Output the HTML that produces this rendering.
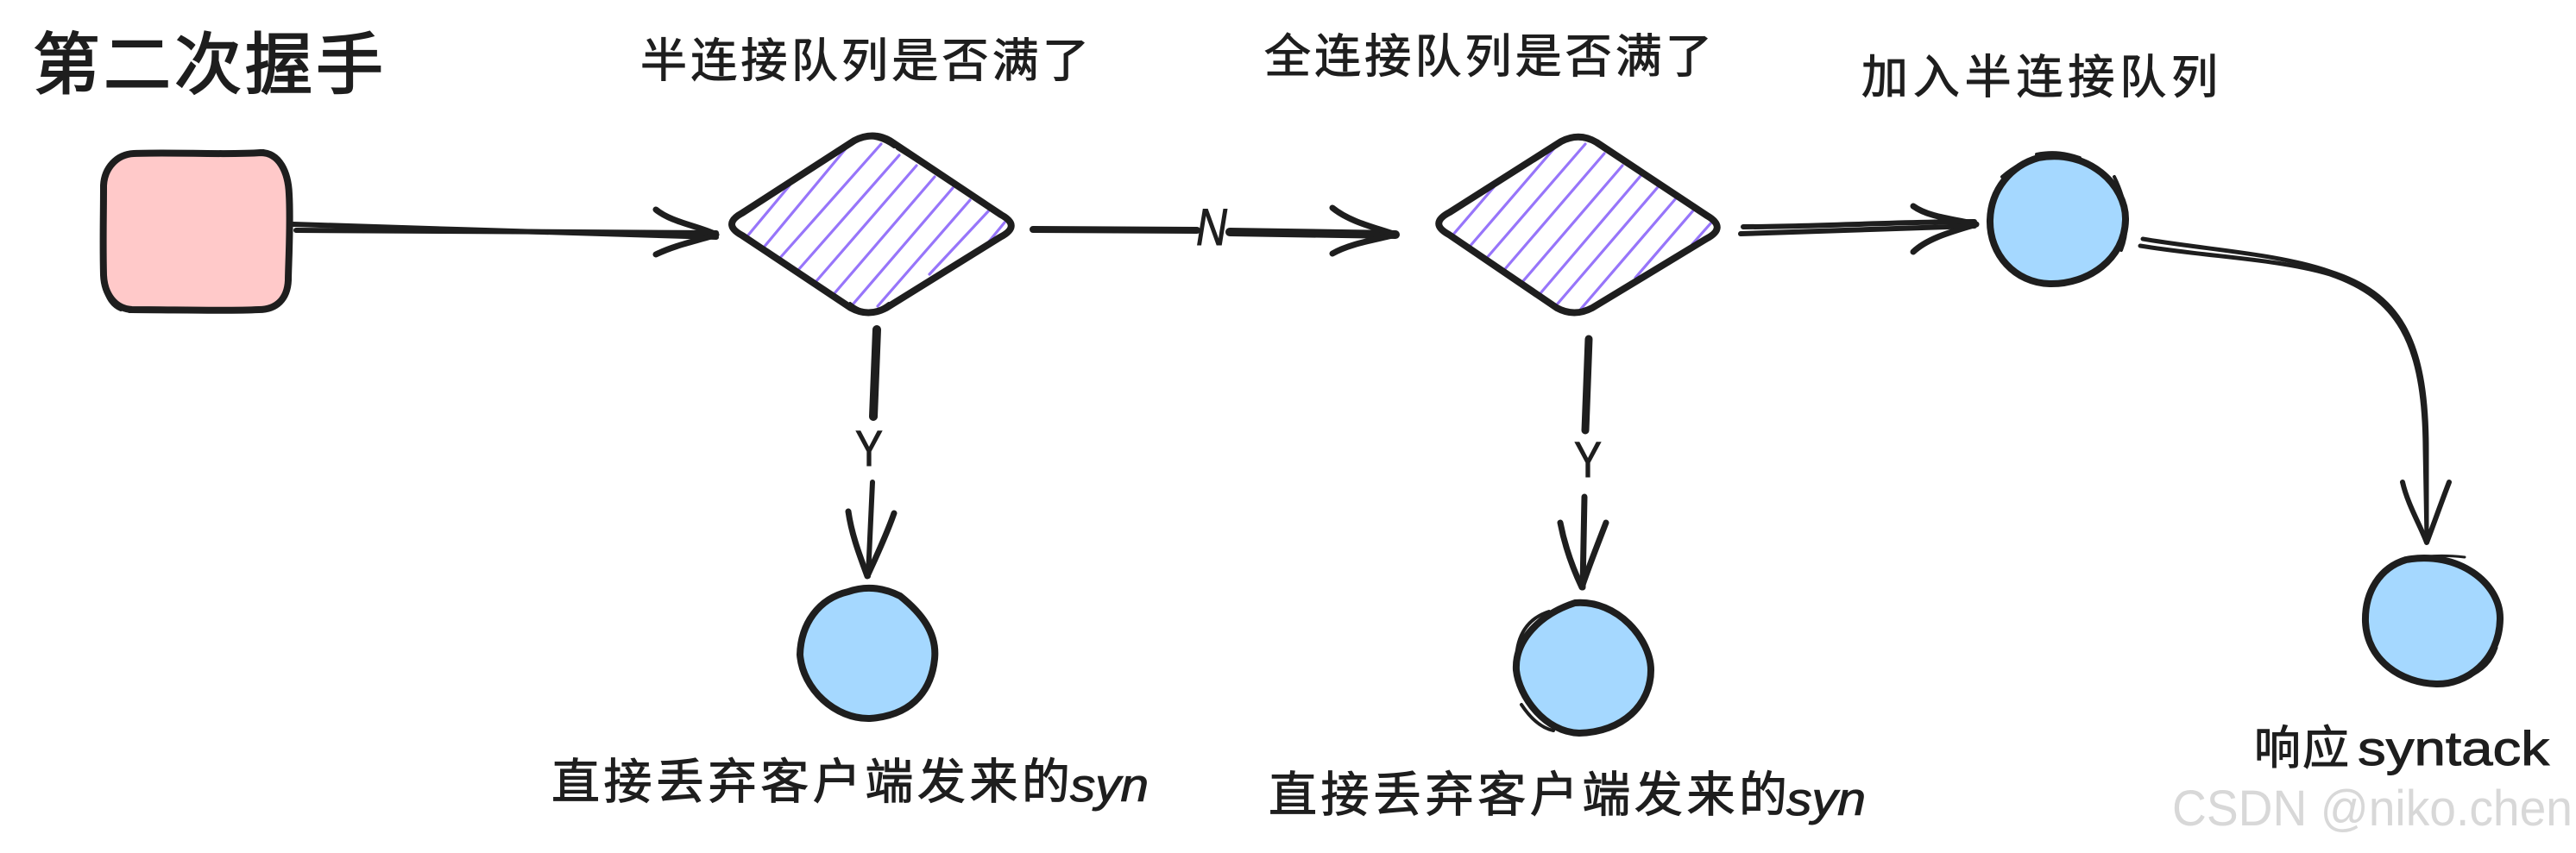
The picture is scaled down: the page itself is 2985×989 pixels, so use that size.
<!DOCTYPE html>
<html><head><meta charset="utf-8"><style>
html,body{margin:0;padding:0;background:#fff;width:2985px;height:989px;overflow:hidden}
svg{display:block}
text{fill:#1e1e1e;stroke:#1e1e1e;stroke-width:1;font-family:"Noto Sans CJK SC","WenQuanYi Zen Hei",sans-serif}
.l{font-family:"Liberation Sans",sans-serif}
.s{fill:none;stroke:#1e1e1e;stroke-linecap:round;stroke-linejoin:round}
.h{stroke:#9775fa;stroke-width:3.2;stroke-linecap:round;fill:none}
</style></head><body>
<svg xmlns="http://www.w3.org/2000/svg" width="2985" height="989" viewBox="0 0 2985 989">
<rect width="2985" height="989" fill="#fff"/>

<!-- labels -->
<text x="38" y="102" font-size="78" font-weight="400" style="stroke-width:2" textLength="406">第二次握手</text>
<text x="742" y="89" font-size="54" textLength="520">半连接队列是否满了</text>
<text x="1465" y="84" font-size="54" textLength="519">全连接队列是否满了</text>
<text x="2157" y="108" font-size="54" textLength="413">加入半连接队列</text>

<!-- pink rect -->
<path d="M155,178 C200,176 262,180 302,177 C324,177 334,200 335,225 C337,260 334,310 334,325 C333,347 320,359 300,359 C260,361 200,359 153,359 C133,358 121,341 120,319 C119,280 120,250 120,215 C121,195 135,179 155,178Z" fill="#ffc9c9"/>
<path class="s" stroke-width="8" d="M155,178 C200,176 262,180 302,177 C324,177 334,200 335,225 C337,260 334,310 334,325 C333,347 320,359 300,359 C260,361 200,359 153,359 C133,358 121,341 120,319 C119,280 120,250 120,215 C121,195 135,179 155,178Z"/>
<path class="s" stroke-width="4" d="M158,176 C210,179 270,180 305,175 M333,210 C338,260 338,310 333,335 M150,361 C200,361 260,362 305,360 M119,320 C121,342 128,354 140,359"/>

<!-- arrow 1 -->
<path class="s" stroke-width="6" d="M340,260 C500,265 680,271 830,275"/>
<path class="s" stroke-width="6" d="M343,267 C500,268 680,269 830,270"/>
<path class="s" stroke-width="7" d="M760,243 C778,258 810,262 830,272 C810,279 785,283 760,295"/>

<!-- diamond 1 -->
<path class="h" d="M865,275L915,215M884,288L982,170M903,300L1021,167M925,313L1042,180M945,327L1062,192M967,340L1083,205M989,352L1104,218M1017,355L1124,232M1077,318L1146,244M1146,280L1164,258"/>
<path class="s" stroke-width="8" d="M990,163 Q1011,152 1031,163 L1160,249 Q1184,262 1159,275 L1027,357 Q1006,368 986,357 L860,273 Q836,260 860,247 Z"/>
<path class="s" stroke-width="4" d="M985,168 Q1008,150 1036,170 M1040,172 L1158,246 M985,352 Q1006,370 1030,352"/>

<!-- arrow N -->
<path class="s" stroke-width="8" stroke-linecap="butt" d="M1197,266 L1387,267"/>
<path class="s" stroke-width="10" stroke-linecap="butt" d="M1425,269 L1617,272"/>
<path class="s" stroke-width="7" d="M1544,241 C1565,258 1595,264 1617,272 C1595,278 1565,282 1544,294"/>
<text class="l" x="1386" y="284" font-size="60" font-style="italic" textLength="36" lengthAdjust="spacingAndGlyphs">N</text>

<!-- diamond 2 -->
<path class="h" d="M1683,273L1731,217M1702,287L1801,172M1722,300L1837,167M1743,313L1859,178M1764,327L1880,192M1785,340L1901,204M1805,352L1921,217M1832,358L1942,230M1895,322L1963,243M1961,283L1984,257"/>
<path class="s" stroke-width="8" d="M1809,164 Q1830,153 1850,165 L1978,250 Q2002,264 1977,277 L1845,357 Q1824,368 1804,357 L1679,272 Q1655,259 1680,246 Z"/>
<path class="s" stroke-width="4" d="M1806,166 Q1830,150 1856,170 M1860,172 L1976,248"/>

<!-- arrow 3 -->
<path class="s" stroke-width="6" d="M2020,263 C2100,263 2200,257 2288,257"/>
<path class="s" stroke-width="6" d="M2017,271 C2100,268 2200,265 2288,262"/>
<path class="s" stroke-width="7" d="M2217,239 C2235,252 2265,254 2290,260 C2265,268 2235,275 2217,292"/>

<!-- circle A -->
<ellipse cx="2384" cy="255" rx="79" ry="75" fill="#a5d8ff"/>
<path class="s" stroke-width="8" d="M2362,183 C2420,172 2464,215 2463,255 C2462,300 2420,330 2375,329 C2335,328 2305,295 2306,255 C2307,220 2330,192 2362,183Z"/>
<path class="s" stroke-width="4" d="M2360,179 C2380,175 2395,178 2410,183 M2320,205 C2335,192 2350,185 2365,183 M2450,205 C2465,235 2468,265 2458,290"/>

<!-- curve arrow -->
<path class="s" stroke-width="5" d="M2483,277 C2560,290 2640,294 2700,315 C2778,340 2812,390 2812,520 L2812,629"/>
<path class="s" stroke-width="5" d="M2480,285 C2560,298 2640,300 2700,318 C2778,345 2809,395 2810,520 L2812,625"/>
<path class="s" stroke-width="6" d="M2784,559 C2790,585 2804,608 2812,629 C2820,608 2828,585 2838,559"/>

<!-- circle B -->
<ellipse cx="2819" cy="719" rx="79" ry="74" fill="#a5d8ff"/>
<path class="s" stroke-width="8" d="M2788,649 C2848,638 2898,676 2897,718 C2896,766 2858,794 2823,793 C2783,792 2743,766 2741,721 C2740,686 2758,658 2788,649Z"/>
<path class="s" stroke-width="3" d="M2790,649 C2813,643 2838,644 2856,646 M2858,786 C2878,778 2888,766 2893,751"/>

<!-- arrow Y1 -->
<path class="s" stroke-width="10" stroke-linecap="butt" d="M1016,382 L1012,483"/>
<path class="s" stroke-width="6" stroke-linecap="butt" d="M1011,559 L1006,668"/>
<path class="s" stroke-width="7" d="M983,593 C987,621 997,646 1005,668 C1015,646 1027,621 1036,595"/>
<text class="l" x="991" y="540" font-size="58" textLength="32" lengthAdjust="spacingAndGlyphs">Y</text>

<!-- circle C -->
<ellipse cx="1005" cy="758" rx="76" ry="74" fill="#a5d8ff"/>
<path class="s" stroke-width="8" d="M983,686 C1003,679 1023,681 1043,691 C1068,711 1086,734 1083,764 C1080,794 1063,829 1008,833 C968,834 930,799 927,759 C928,724 948,694 983,686Z"/>

<!-- arrow Y2 -->
<path class="s" stroke-width="9" stroke-linecap="butt" d="M1841,393 L1837,499"/>
<path class="s" stroke-width="7" stroke-linecap="butt" d="M1836,576 L1834,681"/>
<path class="s" stroke-width="7" d="M1808,606 C1814,637 1824,662 1833,681 C1841,657 1851,632 1861,606"/>
<text class="l" x="1824" y="553" font-size="58" textLength="32" lengthAdjust="spacingAndGlyphs">Y</text>

<!-- circle D -->
<ellipse cx="1835" cy="774" rx="77" ry="75" fill="#a5d8ff"/>
<path class="s" stroke-width="8" d="M1825,699 C1875,695 1913,742 1913,777 C1913,817 1880,849 1830,850 C1790,849 1760,807 1757,777 C1755,742 1785,712 1825,699Z"/>
<path class="s" stroke-width="4" d="M1757,767 C1757,737 1770,717 1795,709 M1763,817 C1773,832 1785,844 1800,847"/>

<!-- bottom labels -->
<text x="639" y="926" font-size="56" textLength="601">直接丢弃客户端发来的</text>
<text class="l" x="1240" y="929" font-size="54" font-style="italic" textLength="91" lengthAdjust="spacingAndGlyphs">syn</text>
<text x="1470" y="941" font-size="56" textLength="601">直接丢弃客户端发来的</text>
<text class="l" x="2070" y="945" font-size="54" font-style="italic" textLength="92" lengthAdjust="spacingAndGlyphs">syn</text>
<text x="2612" y="886" font-size="54" textLength="110">响应</text>
<text class="l" x="2732" y="887" font-size="56" font-weight="500" textLength="222" lengthAdjust="spacingAndGlyphs">syntack</text>

<!-- watermark -->
<text class="l" x="2517" y="957" font-size="58" textLength="464" lengthAdjust="spacingAndGlyphs" style="fill:#d8d8d8;stroke:none">CSDN @niko.chen</text>
</svg>
</body></html>
